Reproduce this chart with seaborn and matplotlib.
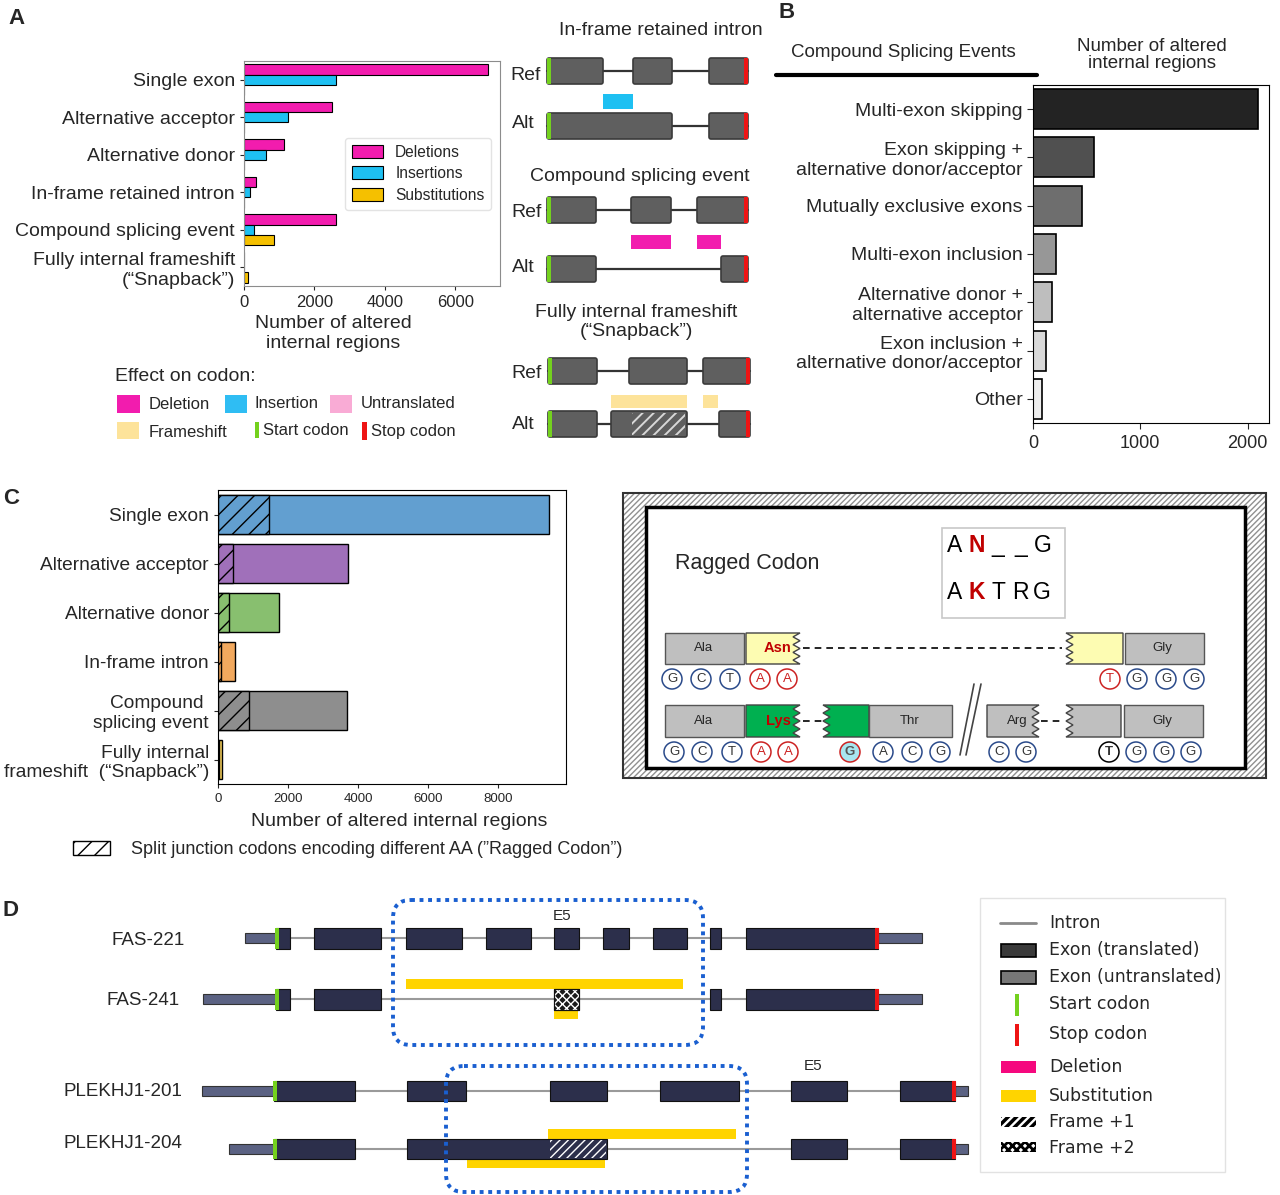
import numpy as np
import pandas as pd
import matplotlib
matplotlib.use("Agg")
import matplotlib.pyplot as plt
from matplotlib.patches import Rectangle, FancyBboxPatch, Polygon, Circle
import seaborn as sns

W, H = 1280, 1195

# ---- panel A: effect on codon per splicing type ----
a_categories = ["Single exon", "Alternative acceptor", "Alternative donor",
                "In-frame retained intron", "Compound splicing event",
                "Fully internal frameshift\n(\u201cSnapback\u201d)"]
a_deletions = [6940, 2490, 1130, 350, 2600, 0]
a_insertions = [2610, 1240, 615, 160, 275, 0]
a_substitutions = [0, 0, 0, 0, 850, 115]
a_types = ["Deletions", "Insertions", "Substitutions"]
a_colors = ["#f21cae", "#1ec0f2", "#f5c000"]

# ---- panel B: compound splicing events ----
b_events = ["Multi-exon skipping",
            "Exon skipping +\nalternative donor/acceptor",
            "Mutually exclusive exons",
            "Multi-exon inclusion",
            "Alternative donor +\nalternative acceptor",
            "Exon inclusion +\nalternative donor/acceptor",
            "Other"]
b_counts = [2100, 565, 460, 218, 178, 121, 81]
b_colors = ["#232323", "#505050", "#6e6e6e", "#979797", "#bebebe", "#d9d9d9", "#eeeeee"]

# ---- panel C: ragged codons ----
c_categories = ["Single exon", "Alternative acceptor", "Alternative donor",
                "In-frame intron", "Compound \nsplicing event",
                "Fully internal\nframeshift  (\u201cSnapback\u201d)"]
c_total = [9455, 3700, 1730, 490, 3690, 115]
c_ragged = [1450, 437, 312, 72, 875, 40]
c_colors = ["#629fd0", "#a070ba", "#88bf6f", "#f2a95e", "#8e8e8e", "#f5cf5b"]

# ---- panel D: example transcripts (schematic spans) ----
fas221_exons = [(276, 290), (314, 381), (406, 462), (486, 531), (554, 579),
                (603, 629), (653, 687), (710, 721), (746, 878)]
fas241_exons = [(276, 290), (314, 381), (554, 579), (710, 721), (746, 878)]
plek201_exons = [(274, 355), (407, 466), (550, 607), (660, 739), (791, 847), (900, 955)]
plek204_exons = [(274, 355), (407, 607), (791, 847), (900, 955)]

sns.set_style("ticks")
plt.rcParams["font.family"] = ["Liberation Sans", "DejaVu Sans"]
plt.rcParams["hatch.linewidth"] = 1.0

fig = plt.figure(figsize=(W / 100, H / 100), dpi=100)


def px_axes(l, t, r, b):
    return fig.add_axes([l / W, 1 - b / H, (r - l) / W, (b - t) / H])


# ── Panel A bars ──────────────────────────────────────────────────────────
ax_a = px_axes(244, 61, 500, 286)
df_a = pd.DataFrame({
    "category": a_categories * 3,
    "count": a_deletions + a_insertions + a_substitutions,
    "type": [t for t in a_types for _ in a_categories],
})
sns.barplot(data=df_a, x="count", y="category", hue="type", orient="h",
            palette=a_colors, saturation=1, edgecolor="black", linewidth=0.8,
            width=0.82, ax=ax_a)
ax_a.set_xlim(0, 7270)
ax_a.set_xticks([0, 2000, 4000, 6000])
ax_a.tick_params(axis="x", labelsize=12, length=3)
ax_a.tick_params(axis="y", labelsize=14, length=3)
ax_a.set_ylabel("")
ax_a.set_xlabel("Number of altered\ninternal regions", fontsize=14)
ax_a.xaxis.set_label_coords(0.35, -0.13)
for s in ax_a.spines.values():
    s.set_visible(True)
    s.set_color("#8c8c8c")
leg = ax_a.legend(loc="upper left", bbox_to_anchor=(0.375, 0.68), fontsize=11.2,
                  handlelength=2.0, handleheight=0.9, borderpad=0.45,
                  labelspacing=0.42, handletextpad=0.8, borderaxespad=0.3,
                  frameon=True)
leg.get_frame().set_edgecolor("#dddddd")

# ── Panel B bars ──────────────────────────────────────────────────────────
ax_b = px_axes(1033, 85, 1269, 423)
sns.barplot(x=b_counts, y=b_events, hue=b_events, palette=b_colors, legend=False,
            orient="h", saturation=1, edgecolor="black", linewidth=1.2,
            width=0.83, ax=ax_b)
ax_b.set_xlim(0, 2200)
ax_b.set_xticks([0, 1000, 2000])
ax_b.tick_params(axis="x", labelsize=13, length=4, pad=5)
ax_b.tick_params(axis="y", labelsize=14, length=4)
for s in ax_b.spines.values():
    s.set_visible(True)
    s.set_color("black")

# ── Panel C bars ──────────────────────────────────────────────────────────
ax_c = px_axes(218, 490, 566, 784)
sns.barplot(x=c_total, y=c_categories, hue=c_categories, palette=c_colors,
            legend=False, orient="h", saturation=1, edgecolor="black",
            linewidth=1.0, width=0.8, ax=ax_c)
sns.barplot(x=c_ragged, y=c_categories, hue=c_categories, palette=c_colors,
            legend=False, orient="h", saturation=1, edgecolor="black",
            linewidth=1.0, width=0.8, ax=ax_c)
for p in ax_c.patches[len(c_categories):]:
    p.set_hatch("//")
ax_c.set_xlim(0, 9930)
ax_c.set_xticks([0, 2000, 4000, 6000, 8000])
ax_c.tick_params(axis="x", labelsize=9.5, length=3)
ax_c.tick_params(axis="y", labelsize=13.8, length=3)
ax_c.set_xlabel("Number of altered internal regions", fontsize=14)
ax_c.xaxis.set_label_coords(0.52, -0.1)
for s in ax_c.spines.values():
    s.set_visible(True)
    s.set_color("black")

# ── overlay for schematics and free text ─────────────────────────────────
ov = fig.add_axes([0, 0, 1, 1], zorder=10)
ov.set_xlim(0, W)
ov.set_ylim(H, 0)
ov.axis("off")
ov.patch.set_alpha(0)

GREEN = "#74d11e"
RED = "#ee1414"


def rect(x0, x1, y0, y1, hatch_lw=None, **kw):
    p = Rectangle((x0, y0), x1 - x0, y1 - y0, **kw)
    if hatch_lw is not None and hasattr(p, "set_hatch_linewidth"):
        p.set_hatch_linewidth(hatch_lw)
    ov.add_patch(p)


def txt(x, y, s, **kw):
    kw.setdefault("va", "center")
    ov.text(x, y, s, **kw)


for letter, (x, y) in zip("ABCD", [(8, 18), (778, 12), (3, 498), (3, 910)]):
    txt(x, y, letter, fontsize=16, fontweight="bold")

# Panel A schematics
A_GRAY = "#5f5f5f"


def gene_row(exons, yc, h=26):
    ov.plot([exons[0][0], exons[-1][1]], [yc, yc], color="#333333", lw=1.6, zorder=1)
    for x0, x1 in exons:
        ov.add_patch(FancyBboxPatch((x0, yc - h / 2), x1 - x0, h,
                                    boxstyle="round,pad=0,rounding_size=2",
                                    fc=A_GRAY, ec="#3a3a3a", lw=1.2, zorder=2))
    rect(exons[0][0], exons[0][0] + 4, yc - h / 2, yc + h / 2, fc=GREEN, ec="none", zorder=3)
    rect(exons[-1][1] - 4, exons[-1][1], yc - h / 2, yc + h / 2, fc=RED, ec="none", zorder=3)


txt(661, 30, "In-frame retained intron", fontsize=14, ha="center")
txt(510, 75, "Ref", fontsize=14)
gene_row([(547, 603), (633, 672), (709, 748)], 71)
rect(603, 633, 94, 109, fc="#1ec0f2", ec="none")
txt(512, 123, "Alt", fontsize=14)
gene_row([(547, 672), (709, 748)], 126)

txt(640, 176, "Compound splicing event", fontsize=14, ha="center")
txt(511, 212, "Ref", fontsize=14)
gene_row([(547, 596), (631, 671), (697, 748)], 210)
rect(631, 671, 235, 249, fc="#f21cae", ec="none")
rect(697, 721, 235, 249, fc="#f21cae", ec="none")
txt(512, 267, "Alt", fontsize=14)
gene_row([(547, 596), (721, 748)], 269)

txt(636, 322, "Fully internal frameshift\n(\u201cSnapback\u201d)", fontsize=14, ha="center")
txt(511, 373, "Ref", fontsize=14)
gene_row([(548, 597), (629, 687), (703, 750)], 371)
rect(611, 687, 395, 408, fc="#fde39a", ec="none")
rect(703, 718, 395, 408, fc="#fde39a", ec="none")
txt(512, 424, "Alt", fontsize=14)
gene_row([(548, 597), (611, 687), (719, 750)], 424)
rect(632, 685, 413, 435, fc="none", ec="#d8d8d8", lw=0, hatch="///", zorder=4,
     hatch_lw=1.4)

# effect on codon legend
txt(115, 376, "Effect on codon:", fontsize=14)
rect(117, 140, 395, 413, fc="#f21cae", ec="none")
txt(149, 404, "Deletion", fontsize=12)
rect(225, 247, 395, 413, fc="#2fbdf3", ec="none")
txt(255, 403, "Insertion", fontsize=12)
rect(330, 352, 395, 413, fc="#f9abd5", ec="none")
txt(361, 403, "Untranslated", fontsize=12)
rect(117, 139, 422, 439, fc="#fde39a", ec="none")
txt(149, 432, "Frameshift", fontsize=12)
rect(255, 259, 422, 438, fc=GREEN, ec="none")
txt(263, 430, "Start codon", fontsize=12)
rect(362, 367, 422, 440, fc=RED, ec="none")
txt(371, 431, "Stop codon", fontsize=12)

# Panel B headers
txt(903, 52, "Compound Splicing Events", fontsize=13.5, ha="center")
ov.plot([776, 1037], [75, 75], color="black", lw=3)
txt(1152, 55, "Number of altered\ninternal regions", fontsize=13.5, ha="center",
    linespacing=1.0)

# Panel C ragged legend
rect(73, 110, 841, 855, fc="white", ec="black", lw=1.0, hatch="//")
txt(131, 849, "Split junction codons encoding different AA (\u201dRagged Codon\u201d)", fontsize=13)

# Ragged codon diagram
rect(623, 1266, 493, 778, fc="white", ec="#909090", lw=0, hatch="//////")
rect(623, 1266, 493, 778, fill=False, ec="#333333", lw=1.5)
rect(646, 1245, 507, 768, fc="white", ec="black", lw=2.5)
txt(675, 563, "Ragged Codon", fontsize=15.5)
rect(942, 1065, 528, 618, fc="white", ec="#c8c8c8", lw=1.2)
for x, ch, col in [(955, "A", "black"), (977, "N", "#c00000"), (998, "_", "black"),
                   (1021, "_", "black"), (1043, "G", "black")]:
    txt(x, 545, ch, fontsize=16.5, ha="center", color=col,
        fontweight="bold" if col != "black" else "normal")
for x, ch, col in [(955, "A", "black"), (977, "K", "#c00000"), (998, "T", "black"),
                   (1020, "R", "black"), (1042, "G", "black")]:
    txt(x, 592, ch, fontsize=16.5, ha="center", color=col,
        fontweight="bold" if col != "black" else "normal")


def jag(x0, x1, y0, y1, side, fc, teeth=4, amp=7):
    ys = np.linspace(y0, y1, 2 * teeth + 1)
    if side == "right":
        zig = [(x1 - (amp if k % 2 else 0), y) for k, y in enumerate(ys)]
        pts = [(x0, y0)] + zig + [(x0, y1)]
    else:
        zig = [(x0 + (amp if k % 2 else 0), y) for k, y in enumerate(ys)][::-1]
        pts = [(x1, y0), (x1, y1)] + zig
    ov.add_patch(Polygon(pts, closed=True, fc=fc, ec="#444444", lw=1.0))


CG = "#bfbfbf"
# row 1
rect(665, 744, 633, 664, fc=CG, ec="#555555", lw=1.0)
txt(704, 648, "Ala", fontsize=9.5, ha="center")
jag(746, 800, 633, 664, "right", "#fdfcb2")
txt(778, 648, "Asn", fontsize=10.5, ha="center", color="#c00000", fontweight="bold")
ov.plot([803, 1062], [648, 648], color="black", lw=1.2, ls=(0, (4, 3)))
jag(1066, 1123, 633, 664, "left", "#fdfcb2")
rect(1125, 1204, 633, 664, fc=CG, ec="#555555", lw=1.0)
txt(1162, 648, "Gly", fontsize=9.5, ha="center")
# row 2
rect(665, 744, 705, 737, fc=CG, ec="#555555", lw=1.0)
txt(704, 721, "Ala", fontsize=9.5, ha="center")
jag(746, 800, 705, 737, "right", "#00b050")
txt(778, 721, "Lys", fontsize=10.5, ha="center", color="#c00000", fontweight="bold")
ov.plot([803, 822], [721, 721], color="black", lw=1.2, ls=(0, (4, 3)))
jag(823, 869, 705, 737, "left", "#00b050")
rect(869, 952, 705, 737, fc=CG, ec="#555555", lw=1.0)
txt(910, 721, "Thr", fontsize=9.5, ha="center")
ov.plot([960, 974], [755, 684], color="#444444", lw=1.2)
ov.plot([966, 981], [755, 684], color="#444444", lw=1.2)
jag(987, 1039, 705, 737, "right", CG)
txt(1017, 721, "Arg", fontsize=9.5, ha="center")
ov.plot([1041, 1064], [721, 721], color="black", lw=1.2, ls=(0, (4, 3)))
jag(1066, 1121, 705, 737, "left", CG)
rect(1124, 1203, 705, 737, fc=CG, ec="#555555", lw=1.0)
txt(1162, 721, "Gly", fontsize=9.5, ha="center")

BLUE_E, RED_E = "#2a4a8a", "#cc2222"
row1_bases = [(672, "G", "b"), (701, "C", "b"), (730, "T", "b"), (760, "A", "r"),
              (787, "A", "r"), (1110, "T", "r"), (1137, "G", "b"), (1166, "G", "b"),
              (1194, "G", "b")]
row2_bases = [(674, "G", "b"), (702, "C", "b"), (732, "T", "b"), (761, "A", "r"),
              (788, "A", "r"), (850, "G", "c"), (883, "A", "b"), (912, "C", "b"),
              (940, "G", "b"), (999, "C", "b"), (1026, "G", "b"), (1109, "T", "k"),
              (1136, "G", "b"), (1164, "G", "b"), (1191, "G", "b")]
for y, bases in [(679, row1_bases), (752, row2_bases)]:
    for x, ch, kind in bases:
        ec = {"b": BLUE_E, "r": RED_E, "c": RED_E, "k": "black"}[kind]
        fc = "#a8e6f0" if kind == "c" else "white"
        tc = RED_E if kind == "r" else ("#555555" if kind == "c" else "#333333")
        ov.add_patch(Circle((x, y), 10, fc=fc, ec=ec, lw=1.1))
        txt(x, y, ch, fontsize=9.5, ha="center", color=tc,
            fontweight="bold" if kind in "ck" else "normal")

# ── Panel D transcripts ──────────────────────────────────────────────────
EXON_D = "#2c2f4b"
UTR_D = "#5b6283"
YEL_D = "#ffd400"


def transcript(exons, yc, utr_left, utr_right, h=21):
    ov.plot([exons[0][0], exons[-1][1]], [yc, yc], color="#9a9a9a", lw=1.5, zorder=1)
    rect(utr_left, exons[0][0], yc - 5, yc + 5, fc=UTR_D, ec="#333333", lw=0.8, zorder=2)
    rect(exons[-1][1], utr_right, yc - 5, yc + 5, fc=UTR_D, ec="#333333", lw=0.8, zorder=2)
    for x0, x1 in exons:
        rect(x0, x1, yc - h / 2, yc + h / 2, fc=EXON_D, ec="#111111", lw=0.8, zorder=2)
    rect(exons[0][0] - 1, exons[0][0] + 3, yc - h / 2, yc + h / 2, fc=GREEN, ec="none", zorder=3)
    rect(exons[-1][1] - 3, exons[-1][1] + 1, yc - h / 2, yc + h / 2, fc=RED, ec="none", zorder=3)


txt(185, 940, "FAS-221", fontsize=13.5, ha="right")
transcript(fas221_exons, 938, 245, 922)
txt(562, 916, "E5", fontsize=11, ha="center")
txt(180, 1000, "FAS-241", fontsize=13.5, ha="right")
transcript(fas241_exons, 999, 203, 922)
rect(554, 579, 988.5, 1009.5, fc="#1a1a1a", ec="white", lw=0, hatch="xxxx", zorder=3)
rect(554, 579, 988.5, 1009.5, fill=False, ec="#111111", lw=0.8, zorder=4)
rect(406, 683, 979, 989, fc=YEL_D, ec="none")
rect(554, 578, 1011, 1019, fc=YEL_D, ec="none")
ov.add_patch(FancyBboxPatch((393, 900), 310, 145, boxstyle="round,pad=0,rounding_size=18",
                            fill=False, ec="#1a5fd0", lw=2.8, ls=(0, (1, 1.2)), zorder=5))

txt(182, 1092, "PLEKHJ1-201", fontsize=13.5, ha="right")
transcript(plek201_exons, 1091, 202, 968, h=20)
txt(813, 1066, "E5", fontsize=11, ha="center")
txt(182, 1144, "PLEKHJ1-204", fontsize=13.5, ha="right")
transcript(plek204_exons, 1149, 229, 968, h=20)
rect(550, 606, 1140, 1158, fc="none", ec="white", lw=0, hatch="////", zorder=3)
rect(548, 736, 1129, 1139, fc=YEL_D, ec="none")
rect(467, 605, 1160, 1168, fc=YEL_D, ec="none")
ov.add_patch(FancyBboxPatch((446, 1066), 301, 126, boxstyle="round,pad=0,rounding_size=18",
                            fill=False, ec="#1a5fd0", lw=2.8, ls=(0, (1, 1.2)), zorder=5))

# Panel D legend
rect(980, 1225, 898, 1172, fc="white", ec="#e2e2e2", lw=1.0)
DJ = {"fontsize": 12.5, "family": "DejaVu Sans"}
ov.plot([1000, 1036], [923, 923], color="#8a8a8a", lw=2)
txt(1049, 923, "Intron", **DJ)
rect(1001, 1036, 944, 957, fc="#3a3a3a", ec="black", lw=1.2)
txt(1049, 950, "Exon (translated)", **DJ)
rect(1001, 1036, 971, 984, fc="#777777", ec="black", lw=1.2)
txt(1049, 977, "Exon (untranslated)", **DJ)
rect(1015, 1019, 994, 1016, fc=GREEN, ec="none")
txt(1049, 1004, "Start codon", **DJ)
rect(1015, 1019, 1024, 1046, fc=RED, ec="none")
txt(1049, 1034, "Stop codon", **DJ)
rect(1001, 1036, 1061, 1073, fc="#f5087e", ec="none")
txt(1049, 1067, "Deletion", **DJ)
rect(1001, 1036, 1090, 1102, fc=YEL_D, ec="none")
txt(1049, 1096, "Substitution", **DJ)
rect(1001, 1036, 1117, 1127, fc="white", ec="black", lw=0, hatch="////", hatch_lw=2.5)
txt(1049, 1122, "Frame +1", **DJ)
rect(1001, 1036, 1142, 1152, fc="white", ec="black", lw=0, hatch="xxxx", hatch_lw=2.0)
txt(1049, 1148, "Frame +2", **DJ)

fig.savefig("out.png", dpi=100)
